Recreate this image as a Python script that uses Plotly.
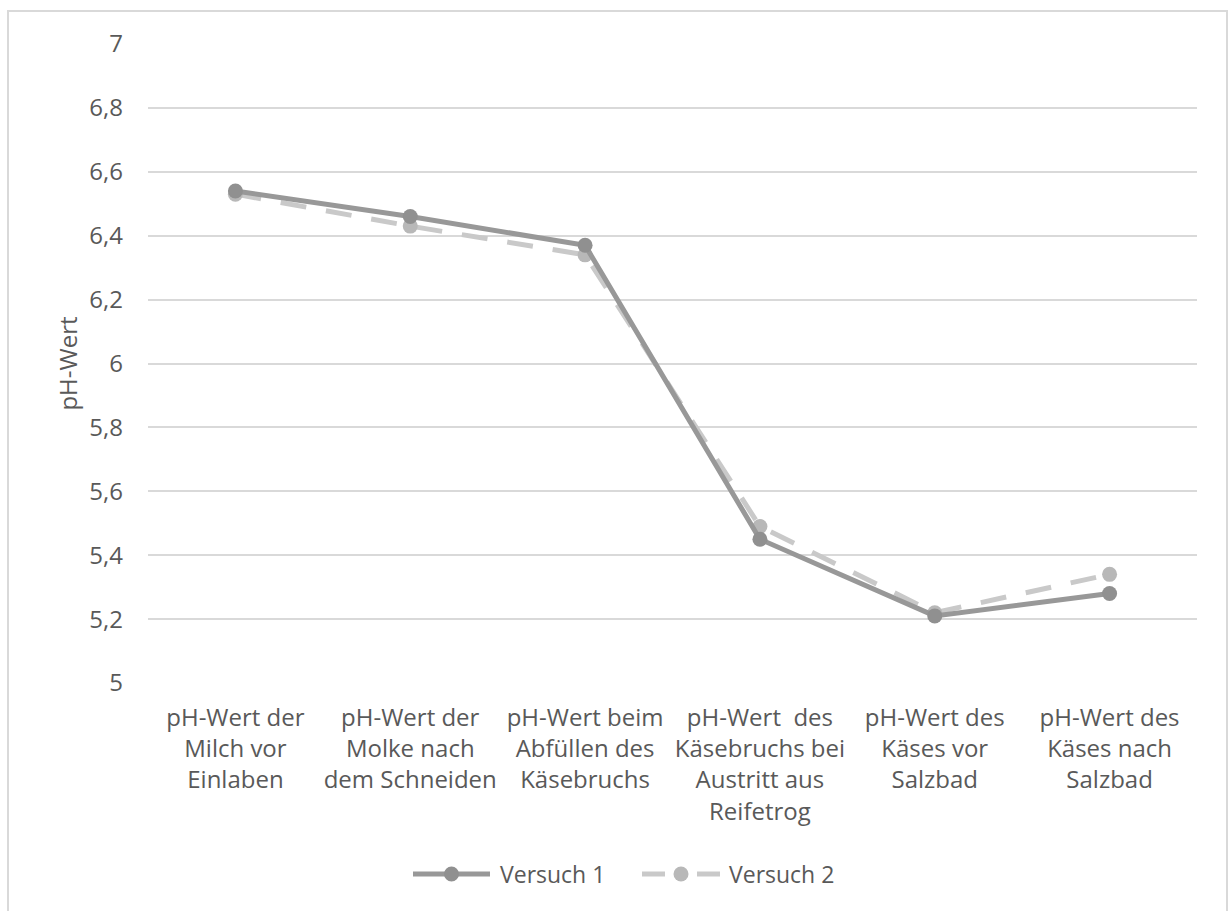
import plotly.graph_objects as go

categories = [
    "pH-Wert der<br>Milch vor<br>Einlaben",
    "pH-Wert der<br>Molke nach<br>dem Schneiden",
    "pH-Wert beim<br>Abfüllen des<br>Käsebruchs",
    "pH-Wert  des<br>Käsebruchs bei<br>Austritt aus<br>Reifetrog",
    "pH-Wert des<br>Käses vor<br>Salzbad",
    "pH-Wert des<br>Käses nach<br>Salzbad",
]
versuch_1 = [6.54, 6.46, 6.37, 5.45, 5.21, 5.28]
versuch_2 = [6.53, 6.43, 6.34, 5.49, 5.22, 5.34]
series_names = ["Versuch 1", "Versuch 2"]
y_ticks = [5, 5.2, 5.4, 5.6, 5.8, 6, 6.2, 6.4, 6.6, 6.8, 7]
y_tick_text = ["5", "5,2", "5,4", "5,6", "5,8", "6", "6,2", "6,4", "6,6", "6,8", "7"]

W, H = 1228, 911
L, R, T, B = 148, 31, 44, 228
pw, ph = W - L - R, H - T - B

font_family = "Open Sans, Noto Sans, sans-serif"
text_color = "#595959"
fs = 24

styles = [
    dict(line=dict(color="#989898", width=5), marker=dict(color="#909090", size=15)),
    dict(line=dict(color="#c9c9c9", width=5, dash="26px,20px"), marker=dict(color="#b8b8b8", size=15)),
]


def px_x(x):
    return (x - L) / pw


def px_y(y):
    return (T + ph - y) / ph


fig = go.Figure()
for name, vals, st in reversed(list(zip(series_names, [versuch_1, versuch_2], styles))):
    fig.add_trace(go.Scatter(
        x=categories, y=vals, name=name, mode="lines+markers",
        line=st["line"], marker=st["marker"], showlegend=False,
    ))

# outer frame around the chart area
fig.add_shape(
    type="rect", xref="paper", yref="paper",
    x0=px_x(8), x1=px_x(1227), y0=px_y(940), y1=px_y(11),
    line=dict(color="#d9d9d9", width=2), fillcolor="rgba(0,0,0,0)", layer="below",
)

# legend below the plot: line sample, marker, label
legend_y = 874
legend_items = [(413, 490, 498), (642, 720, 727)]
for name, st, (lx0, lx1, tx) in zip(series_names, styles, legend_items):
    fig.add_shape(
        type="line", xref="paper", yref="paper",
        x0=px_x(lx0), x1=px_x(lx1), y0=px_y(legend_y), y1=px_y(legend_y),
        line=dict(color=st["line"]["color"], width=5,
                  dash="23px,32px" if "dash" in st["line"] else "solid"),
    )
    cx = (lx0 + lx1) / 2
    r = 7.5
    fig.add_shape(
        type="circle", xref="paper", yref="paper",
        x0=px_x(cx - r), x1=px_x(cx + r), y0=px_y(legend_y + r), y1=px_y(legend_y - r),
        line=dict(width=0), fillcolor=st["marker"]["color"],
    )
    fig.add_annotation(
        x=px_x(tx), y=px_y(legend_y), xref="paper", yref="paper",
        text=name, showarrow=False, xanchor="left", yanchor="middle",
        font=dict(size=23, color=text_color),
    )

fig.update_layout(
    width=W, height=H,
    margin=dict(l=L, r=R, t=T, b=B),
    paper_bgcolor="white", plot_bgcolor="white",
    font=dict(family=font_family, size=fs, color=text_color),
    showlegend=False,
    xaxis=dict(
        type="category", range=[-0.5, 5.5], showgrid=False, showline=False, ticks="",
        tickfont=dict(size=fs, color=text_color), ticklabelstandoff=18,
    ),
    yaxis=dict(
        range=[5, 7], tickvals=y_ticks, ticktext=y_tick_text,
        showgrid=True, gridcolor="#d9d9d9", gridwidth=1.5,
        zeroline=False, showline=False, ticks="",
        tickfont=dict(size=fs, color=text_color), ticklabelstandoff=24,
        title=dict(text="pH-Wert", font=dict(size=fs, color=text_color), standoff=4),
    ),
)

fig.write_html("out.html")
